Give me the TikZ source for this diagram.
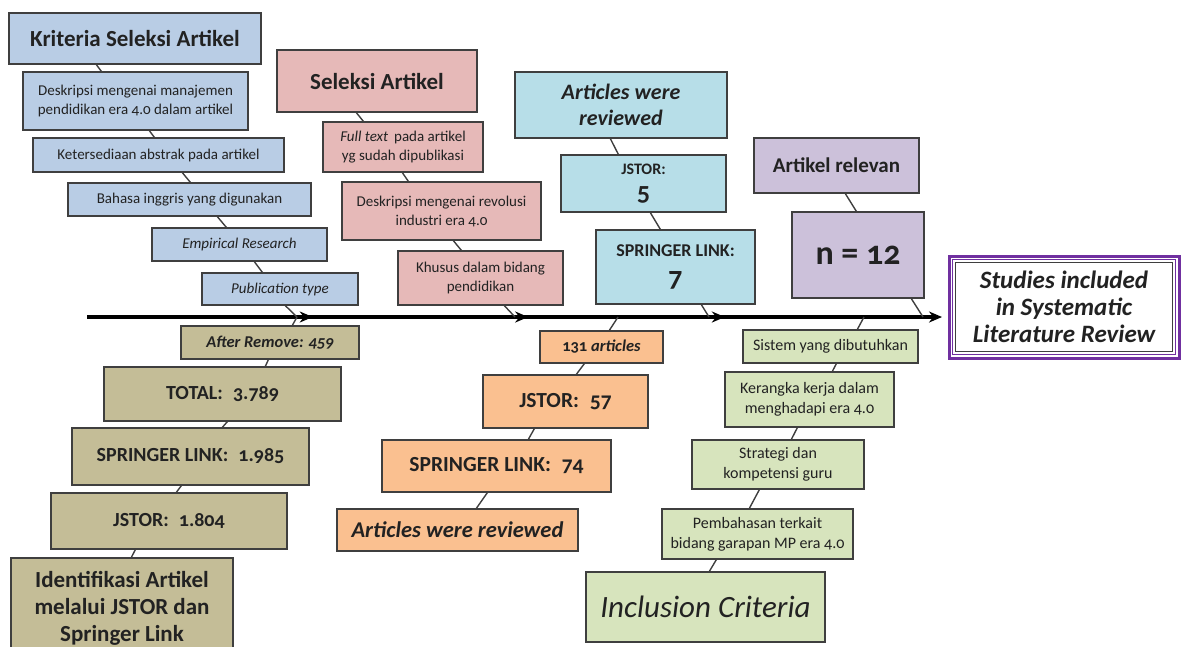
\documentclass[tikz,border=0pt]{standalone}
\usepackage{fontspec}
\setmainfont{Carlito}[Numbers=OldStyle]
\usetikzlibrary{arrows.meta,decorations.markings,calc}
\definecolor{cblue}{HTML}{B9CDE5}
\definecolor{cpink}{HTML}{E6B9B8}
\definecolor{ccyan}{HTML}{B7DEE8}
\definecolor{cpurp}{HTML}{CCC1DA}
\definecolor{ctan}{HTML}{C4BD97}
\definecolor{corng}{HTML}{FAC090}
\definecolor{cgreen}{HTML}{D7E4BD}
\definecolor{edge}{HTML}{3F3F3F}
\definecolor{ink}{HTML}{222222}
\definecolor{vio}{HTML}{7030A0}
\begin{document}
\begin{tikzpicture}[x=1pt,y=-1pt,
  box/.style={draw=edge, line width=1.3pt, inner sep=0pt, align=center, text=ink},
  big/.style={font=\fontsize{23}{27}\selectfont\bfseries},
  small/.style={font=\fontsize{15}{19}\selectfont},
  gsmall/.style={font=\fontsize{16}{20}\selectfont},
  conn/.style={draw=edge, line width=1.4pt},
  mainline/.style={line width=3.5pt, -{Stealth[length=13pt,width=11pt]},
    postaction={decorate},
    decoration={markings,
      mark=at position 0.264 with {\arrow{Stealth[length=13pt,width=11pt]}},
      mark=at position 0.516 with {\arrow{Stealth[length=13pt,width=11pt]}},
      mark=at position 0.746 with {\arrow{Stealth[length=13pt,width=11pt]}}}}
]
\useasboundingbox (0,0) rectangle (1182,646);

% main line
\coordinate (ls) at (87,317);
\coordinate (le) at (942,317);
\draw[mainline] (ls) -- (le);
\coordinate (j1) at (297,317);
\coordinate (j2) at (515,317);
\coordinate (j3) at (709,317);
\coordinate (j4) at (618,317);
\coordinate (j5) at (923,317);
\coordinate (j6) at (864,317);

% blue branch
\node[box, big, fill=cblue, minimum width=252pt, minimum height=51pt] (k0) at (135,38.5) {Kriteria Seleksi Artikel};
\node[box, small, fill=cblue, minimum width=225pt, minimum height=58pt] (k1) at (135.5,101) {Deskripsi mengenai manajemen\\pendidikan era 4.0 dalam artikel};
\node[box, small, fill=cblue, minimum width=251pt, minimum height=34pt] (k2) at (158.5,155) {Ketersediaan abstrak pada artikel};
\node[box, small, fill=cblue, minimum width=243pt, minimum height=33pt] (k3) at (189.5,199.5) {Bahasa inggris yang digunakan};
\node[box, small, fill=cblue, minimum width=175pt, minimum height=33pt] (k4) at (239.5,244.5) {\itshape Empirical Research};
\node[box, small, fill=cblue, minimum width=156pt, minimum height=32pt] (k5) at (280,289) {\itshape Publication type};

% pink branch
\node[box, big, fill=cpink, minimum width=200pt, minimum height=62pt] (s0) at (377,81) {Seleksi Artikel};
\node[box, small, fill=cpink, minimum width=160pt, minimum height=50pt] (s1) at (403,147) {\textit{Full text}\, pada artikel\\yg sudah dipublikasi};
\node[box, small, fill=cpink, minimum width=199pt, minimum height=58pt] (s2) at (441.5,211) {Deskripsi mengenai revolusi\\industri era 4.0};
\node[box, small, fill=cpink, minimum width=165pt, minimum height=54pt] (s3) at (480.5,278) {Khusus dalam bidang\\pendidikan};

% cyan branch
\node[box, fill=ccyan, minimum width=212pt, minimum height=66pt, font=\fontsize{22}{26}\selectfont\bfseries\itshape] (a0) at (621,105) {Articles were\\reviewed};
\node[box, fill=ccyan, minimum width=165pt, minimum height=57pt, font=\fontsize{26}{26}\selectfont\bfseries] (a1) at (643.5,183.5) {{\fontsize{16}{16}\selectfont JSTOR:}\\5};
\node[box, fill=ccyan, minimum width=159pt, minimum height=74pt, font=\fontsize{28}{30}\selectfont\bfseries] (a2) at (675.5,267) {{\fontsize{18}{18}\selectfont SPRINGER LINK:}\\7};

% purple branch
\node[box, fill=cpurp, minimum width=165pt, minimum height=55pt, font=\fontsize{21}{25}\selectfont\bfseries] (r0) at (836.5,165.5) {Artikel relevan};
\node[box, fill=cpurp, minimum width=132pt, minimum height=86pt, font=\fontsize{34}{38}\selectfont\bfseries] (r1) at (858,255) {n = 12};

% final box
\node[draw=vio, line width=3pt, fill=white, inner sep=0pt, align=center, text=ink, minimum width=230pt, minimum height=102pt, font=\fontsize{25}{27}\selectfont\bfseries\itshape] (st) at (1064,307) {Studies included\\in Systematic\\Literature Review};
\draw[vio, line width=1.6pt] ([shift={(5pt,-5pt)}]st.north west) rectangle ([shift={(-5pt,5pt)}]st.south east);
\draw[edge, line width=0.6pt] ([shift={(8pt,-8pt)}]st.north west) rectangle ([shift={(-8pt,8pt)}]st.south east);

% tan branch
\node[box, fill=ctan, minimum width=178pt, minimum height=33pt, font=\fontsize{16.5}{20}\selectfont\bfseries\itshape] (t0) at (270,342.5) {After Remove: 459};
\node[box, fill=ctan, minimum width=237pt, minimum height=54pt, font=\fontsize{20}{24}\selectfont\bfseries] (t1) at (222.5,394) {TOTAL:\; 3.789};
\node[box, fill=ctan, minimum width=237pt, minimum height=57pt, font=\fontsize{20}{24}\selectfont\bfseries] (t2) at (190.5,456.5) {SPRINGER LINK:\; 1.985};
\node[box, fill=ctan, minimum width=236pt, minimum height=56pt, font=\fontsize{20}{24}\selectfont\bfseries] (t3) at (169,521) {JSTOR:\; 1.804};
\node[box, fill=ctan, minimum width=222pt, minimum height=100pt, font=\fontsize{23}{27}\selectfont\bfseries] (t4) at (122,608) {Identifikasi Artikel\\melalui JSTOR dan\\Springer Link};

% orange branch
\node[box, fill=corng, minimum width=123pt, minimum height=32pt, font=\fontsize{16.5}{20}\selectfont\bfseries] (o0) at (601.5,347) {131 \textit{articles}};
\node[box, fill=corng, minimum width=165pt, minimum height=53pt, font=\fontsize{21.5}{25}\selectfont\bfseries] (o1) at (565.5,401.5) {JSTOR:\; 57};
\node[box, fill=corng, minimum width=229pt, minimum height=52pt, font=\fontsize{21.5}{25}\selectfont\bfseries] (o2) at (496.5,466) {SPRINGER LINK:\; 74};
\node[box, fill=corng, minimum width=241pt, minimum height=42pt, font=\fontsize{22.5}{26}\selectfont\bfseries\itshape] (o3) at (457.5,530) {Articles were reviewed};

% green branch
\node[box, gsmall, fill=cgreen, minimum width=175pt, minimum height=33pt] (g0) at (830.5,346.5) {Sistem yang dibutuhkan};
\node[box, gsmall, fill=cgreen, minimum width=169pt, minimum height=55pt] (g1) at (809.5,399.5) {Kerangka kerja dalam\\menghadapi era 4.0};
\node[box, gsmall, fill=cgreen, minimum width=172pt, minimum height=49pt] (g2) at (778,464.5) {Strategi dan\\kompetensi guru};
\node[box, gsmall, fill=cgreen, minimum width=191pt, minimum height=50pt] (g3) at (757.5,534) {Pembahasan terkait\\bidang garapan MP era 4.0};
\node[box, fill=cgreen, minimum width=239pt, minimum height=70pt, font=\fontsize{31}{35}\selectfont\itshape] (g4) at (705.5,607) {Inclusion Criteria};

% connectors
\draw[conn] ([xshift=88pt]k0.south west) -- ([xshift=79pt]k1.north west);
\draw[conn] ([xshift=127pt]k1.south west) -- ([xshift=122pt]k2.north west);
\draw[conn] ([xshift=150pt]k2.south west) -- ([xshift=123pt]k3.north west);
\draw[conn] ([xshift=150pt]k3.south west) -- ([xshift=75pt]k4.north west);
\draw[conn] ([xshift=103pt]k4.south west) -- ([xshift=61pt]k5.north west);
\draw[conn] ([xshift=84pt]k5.south west) -- (j1);
\draw[conn] (j1) -- ([xshift=112pt]t0.north west);
\draw[conn] ([xshift=88pt]t0.south west) -- ([xshift=162pt]t1.north west);
\draw[conn] ([xshift=124pt]t1.south west) -- ([xshift=151pt]t2.north west);
\draw[conn] ([xshift=110pt]t2.south west) -- ([xshift=126pt]t3.north west);
\draw[conn] ([xshift=85pt]t3.south west) -- ([xshift=121pt]t4.north west);

\draw[conn] ([xshift=80pt]s0.south west) -- ([xshift=41pt]s1.north west);
\draw[conn] ([xshift=80pt]s1.south west) -- ([xshift=67pt]s2.north west);
\draw[conn] ([xshift=112pt]s2.south west) -- ([xshift=64pt]s3.north west);
\draw[conn] ([xshift=107pt]s3.south west) -- (j2);

\draw[conn] ([xshift=96pt]a0.south west) -- ([xshift=58pt]a1.north west);
\draw[conn] ([xshift=90pt]a1.south west) -- ([xshift=65pt]a2.north west);
\draw[conn] ([xshift=106pt]a2.south west) -- (j3);
\draw[conn] (j4) -- ([xshift=70pt]o0.north west);
\draw[conn] ([xshift=45pt]o0.south west) -- ([xshift=94pt]o1.north west);
\draw[conn] ([xshift=52pt]o1.south west) -- ([xshift=147pt]o2.north west);
\draw[conn] ([xshift=106pt]o2.south west) -- ([xshift=140pt]o3.north west);

\draw[conn] ([xshift=92pt]r0.south west) -- ([xshift=65pt]r1.north west);
\draw[conn] ([xshift=120pt]r1.south west) -- (j5);
\draw[conn] (j6) -- ([xshift=115pt]g0.north west);
\draw[conn] ([xshift=94pt]g0.south west) -- ([xshift=108pt]g1.north west);
\draw[conn] ([xshift=73pt]g1.south west) -- ([xshift=100pt]g2.north west);
\draw[conn] ([xshift=68pt]g2.south west) -- ([xshift=88pt]g3.north west);
\draw[conn] ([xshift=55pt]g3.south west) -- ([xshift=124pt]g4.north west);
\end{tikzpicture}
\end{document}
